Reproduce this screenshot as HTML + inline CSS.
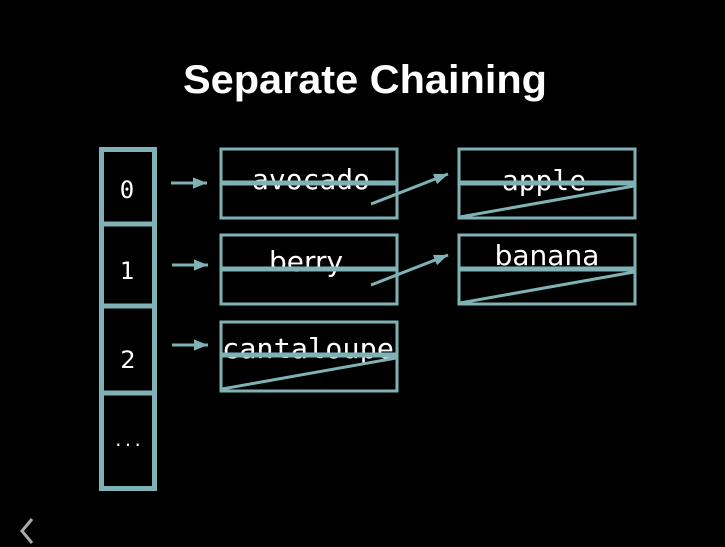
<!DOCTYPE html>
<html><head><meta charset="utf-8"><style>
html,body{margin:0;padding:0;background:#000;width:725px;height:547px;overflow:hidden}
</style></head><body>
<svg width="725" height="547" viewBox="0 0 725 547" xmlns="http://www.w3.org/2000/svg">
<defs>
<marker id="ah" viewBox="0 0 10 10" refX="10" refY="5" markerWidth="14" markerHeight="14" markerUnits="userSpaceOnUse" orient="auto">
<path d="M0,1 L10,5 L0,9 Z" fill="#7fb2b5"/>
</marker>
</defs>
<rect width="725" height="547" fill="#000"/>
<text x="365" y="93" text-anchor="middle" font-family="Liberation Sans, sans-serif" font-weight="bold" font-size="40" fill="#fff" textLength="364" lengthAdjust="spacingAndGlyphs">Separate Chaining</text>
<g stroke="#7fb2b5" fill="none">
<rect x="101.5" y="149.5" width="53" height="339" stroke-width="5"/>
<line x1="101" y1="224" x2="155" y2="224" stroke-width="5"/>
<line x1="101" y1="306" x2="155" y2="306" stroke-width="5"/>
<line x1="101" y1="393" x2="155" y2="393" stroke-width="5"/>
</g>
<g font-family="DejaVu Sans Mono, monospace" font-size="24" fill="#fff" text-anchor="middle">
<text x="127" y="198">0</text>
<text x="127" y="279">1</text>
<text x="128" y="368" font-family="DejaVu Sans, sans-serif">2</text>
<text x="128" y="446" font-size="16">...</text>
</g>
<g stroke="#7fb2b5" stroke-width="3" fill="none">
<line x1="171" y1="183" x2="207" y2="183" marker-end="url(#ah)"/>
<line x1="172" y1="265" x2="208" y2="265" marker-end="url(#ah)"/>
<line x1="172" y1="345" x2="208" y2="345" marker-end="url(#ah)"/>
</g>
<g font-size="28" fill="#fff" text-anchor="middle">
<text x="311" y="189" font-family="DejaVu Sans Mono, monospace">avocado</text>
<text x="306" y="271" font-family="DejaVu Sans, sans-serif">berry</text>
<text x="308" y="358" font-family="DejaVu Sans Mono, monospace" textLength="172" lengthAdjust="spacingAndGlyphs">cantaloupe</text>
<text x="544" y="190" font-family="DejaVu Sans Mono, monospace">apple</text>
<text x="547" y="265" font-family="DejaVu Sans, sans-serif">banana</text>
</g>
<g stroke="#7fb2b5" fill="none" stroke-width="3">
<rect x="221" y="149" width="176" height="69"/>
<rect x="221" y="235" width="176" height="69"/>
<rect x="221" y="322" width="176" height="69"/>
<rect x="459" y="149" width="176" height="69"/>
<rect x="459" y="235" width="176" height="69"/>
</g>
<g stroke="#7fb2b5" stroke-width="5">
<line x1="221" y1="183" x2="397" y2="183"/>
<line x1="221" y1="269" x2="397" y2="269"/>
<line x1="221" y1="355" x2="397" y2="355"/>
<line x1="459" y1="183" x2="635" y2="183"/>
<line x1="459" y1="269" x2="635" y2="269"/>
</g>
<g stroke="#7fb2b5" stroke-width="3" fill="none">
<line x1="222" y1="389" x2="396" y2="358"/>
<line x1="460" y1="217" x2="634" y2="186"/>
<line x1="460" y1="303" x2="634" y2="272"/>
<line x1="371" y1="204" x2="448" y2="174" marker-end="url(#ah)"/>
<line x1="371" y1="285" x2="448" y2="255" marker-end="url(#ah)"/>
</g>
<path d="M32,519 L22,531 L32,543" stroke="#aaa" stroke-width="3" fill="none"/>
</svg>
</body></html>
